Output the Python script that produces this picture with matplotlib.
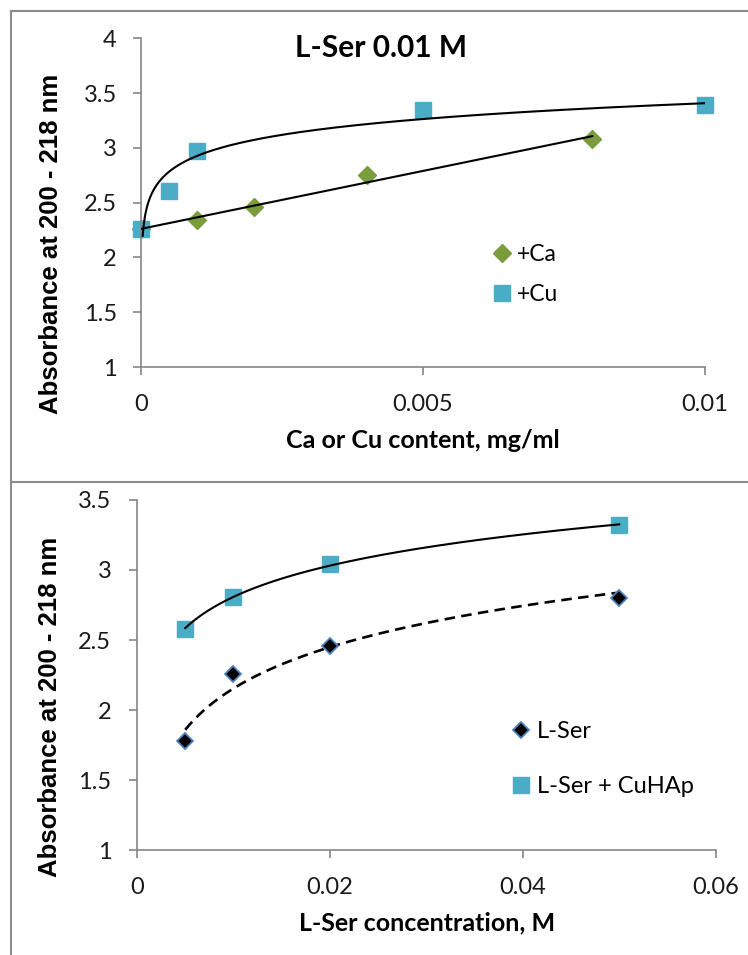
import numpy as np
import matplotlib
matplotlib.use("Agg")
import matplotlib.pyplot as plt
from matplotlib.lines import Line2D

# ---- data -------------------------------------------------------------
# Upper chart: L-Ser 0.01 M with added Ca or Cu
ca_x = [0.0, 0.001, 0.002, 0.004, 0.008]
ca_y = [2.26, 2.34, 2.46, 2.75, 3.08]
cu_x = [0.0, 0.0005, 0.001, 0.005, 0.01]
cu_y = [2.26, 2.61, 2.97, 3.35, 3.39]

# Lower chart: absorbance vs L-Ser concentration
ser_x = [0.005, 0.01, 0.02, 0.05]
ser_y = [1.78, 2.26, 2.46, 2.80]
ser_cu_x = [0.005, 0.01, 0.02, 0.05]
ser_cu_y = [2.58, 2.81, 3.04, 3.32]

top_yticks = [1, 1.5, 2, 2.5, 3, 3.5, 4]
top_xticks = [0, 0.005, 0.01]
top_xticklabels = ["0", "0.005", "0.01"]
bot_yticks = [1, 1.5, 2, 2.5, 3, 3.5]
bot_xticks = [0, 0.02, 0.04, 0.06]
bot_xticklabels = ["0", "0.02", "0.04", "0.06"]

# ---- styling ------------------------------------------------------------
W, H, DPI = 748, 955, 100
NARROW = ["Lato", "DejaVu Sans"]
BOLDLAB = ["Liberation Sans", "DejaVu Sans"]
GREEN = "#7A9C3C"
TEAL = "#4BACC6"
SPINE = "#868686"

fig = plt.figure(figsize=(W / DPI, H / DPI), dpi=DPI)
fig.patch.set_facecolor("white")


def fx(px):
    return px / W


def fy(py):
    return 1 - py / H


def style_axes(ax, xticks, xlabels, yticks, xlim, ylim, ypad, xpad):
    ax.set_xlim(*xlim)
    ax.set_ylim(*ylim)
    for s in ("top", "right"):
        ax.spines[s].set_visible(False)
    for s in ("left", "bottom"):
        ax.spines[s].set_color(SPINE)
        ax.spines[s].set_linewidth(1.2)
    ax.set_xticks(xticks)
    ax.set_xticklabels(xlabels)
    ax.set_yticks(yticks)
    ax.set_yticklabels([f"{v:g}" for v in yticks])
    ax.tick_params(axis="both", direction="out", length=5.5, width=1.2,
                   color=SPINE, labelsize=17)
    ax.tick_params(axis="y", pad=ypad)
    ax.tick_params(axis="x", pad=xpad)
    for lab in ax.get_xticklabels() + ax.get_yticklabels():
        lab.set_family(NARROW)
        lab.set_color("#1a1a1a")


def log_fit(x, y):
    a, b = np.polyfit(np.log(x), y, 1)
    return a, b


# ---- upper chart --------------------------------------------------------
ax1 = fig.add_axes([fx(141), fy(367), fx(705) - fx(141), fy(38.3) - fy(367)])
style_axes(ax1, top_xticks, top_xticklabels, top_yticks, (0, 0.01), (1, 4),
           ypad=12, xpad=14)

# linear trend for +Ca
k, c0 = np.polyfit(ca_x, ca_y, 1)
xl = np.linspace(min(ca_x), max(ca_x), 50)
ax1.plot(xl, k * xl + c0, color="black", lw=1.5, zorder=3)

# logarithmic trend for +Cu (zero-content sample taken at a small offset)
CU_ZERO_X = 3e-5
cu_fit_x = np.array([v if v > 0 else CU_ZERO_X for v in cu_x])
a, b = log_fit(cu_fit_x, cu_y)
xc = np.geomspace(CU_ZERO_X, max(cu_x), 300)
ax1.plot(xc, a * np.log(xc) + b, color="black", lw=1.5, zorder=3)

ax1.plot(ca_x, ca_y, linestyle="none", marker="D", ms=8.8, color=GREEN,
         mec=GREEN, zorder=2, clip_on=False, label="+Ca")
ax1.plot(cu_x, cu_y, linestyle="none", marker="s", ms=11.8, color=TEAL,
         mec=TEAL, zorder=2, clip_on=False, label="+Cu")

leg1 = ax1.legend(loc="upper left", bbox_to_anchor=(fx(494), fy(244)),
                  bbox_transform=fig.transFigure, frameon=False,
                  prop={"family": NARROW, "size": 16.5}, handlelength=0.7,
                  handletextpad=0.3, labelspacing=0.85, borderpad=0,
                  borderaxespad=0, markerscale=1.0)

fig.text(fx(381), fy(48), "L-Ser 0.01 M", ha="center", va="center",
         fontsize=21.5, fontweight="bold", family=NARROW)
fig.text(fx(423), fy(440), "Ca or Cu content, mg/ml", ha="center",
         va="center", fontsize=18, fontweight="bold", family=NARROW)
fig.text(fx(51), fy(244), "Absorbance at 200 - 218 nm", ha="center",
         va="center", rotation=90, fontsize=18.5, fontweight="bold",
         family=BOLDLAB)

# ---- lower chart --------------------------------------------------------
ax2 = fig.add_axes([fx(137), fy(850), fx(715.6) - fx(137), fy(500) - fy(850)])
style_axes(ax2, bot_xticks, bot_xticklabels, bot_yticks, (0, 0.06), (1, 3.5),
           ypad=13, xpad=14)

xs = np.linspace(min(ser_cu_x), max(ser_cu_x), 300)
a1, b1 = log_fit(ser_cu_x, ser_cu_y)
ax2.plot(xs, a1 * np.log(xs) + b1, color="black", lw=1.5, zorder=3)
a2, b2 = log_fit(ser_x, ser_y)
ax2.plot(xs, a2 * np.log(xs) + b2, color="black", lw=1.9,
         linestyle=(0, (4, 2.4)), zorder=3)

ax2.plot(ser_x, ser_y, linestyle="none", marker="D", ms=8.5, color="black",
         mec="#4F81BD", mew=1.3, zorder=4, label="L-Ser")
ax2.plot(ser_cu_x, ser_cu_y, linestyle="none", marker="s", ms=12,
         color=TEAL, mec=TEAL, zorder=2, label="L-Ser + CuHAp")

leg2 = ax2.legend(loc="upper left", bbox_to_anchor=(fx(513), fy(721)),
                  bbox_transform=fig.transFigure, frameon=False,
                  prop={"family": NARROW, "size": 17}, handlelength=0.7,
                  handletextpad=0.3, labelspacing=1.45, borderpad=0,
                  borderaxespad=0)

fig.text(fx(427), fy(923), "L-Ser concentration, M", ha="center",
         va="center", fontsize=18, fontweight="bold", family=NARROW)
fig.text(fx(50), fy(707), "Absorbance at 200 - 218 nm", ha="center",
         va="center", rotation=90, fontsize=18.5, fontweight="bold",
         family=BOLDLAB)

# ---- chart borders ------------------------------------------------------
border = dict(color="#8C8C8C", lw=1.5, transform=fig.transFigure)
fig.add_artist(Line2D([fx(11), fx(11)], [fy(11), 0], **border))
fig.add_artist(Line2D([fx(11), 1], [fy(11), fy(11)], **border))
fig.add_artist(Line2D([fx(11), 1], [fy(482), fy(482)], **border))

fig.savefig("out.png", dpi=DPI)
